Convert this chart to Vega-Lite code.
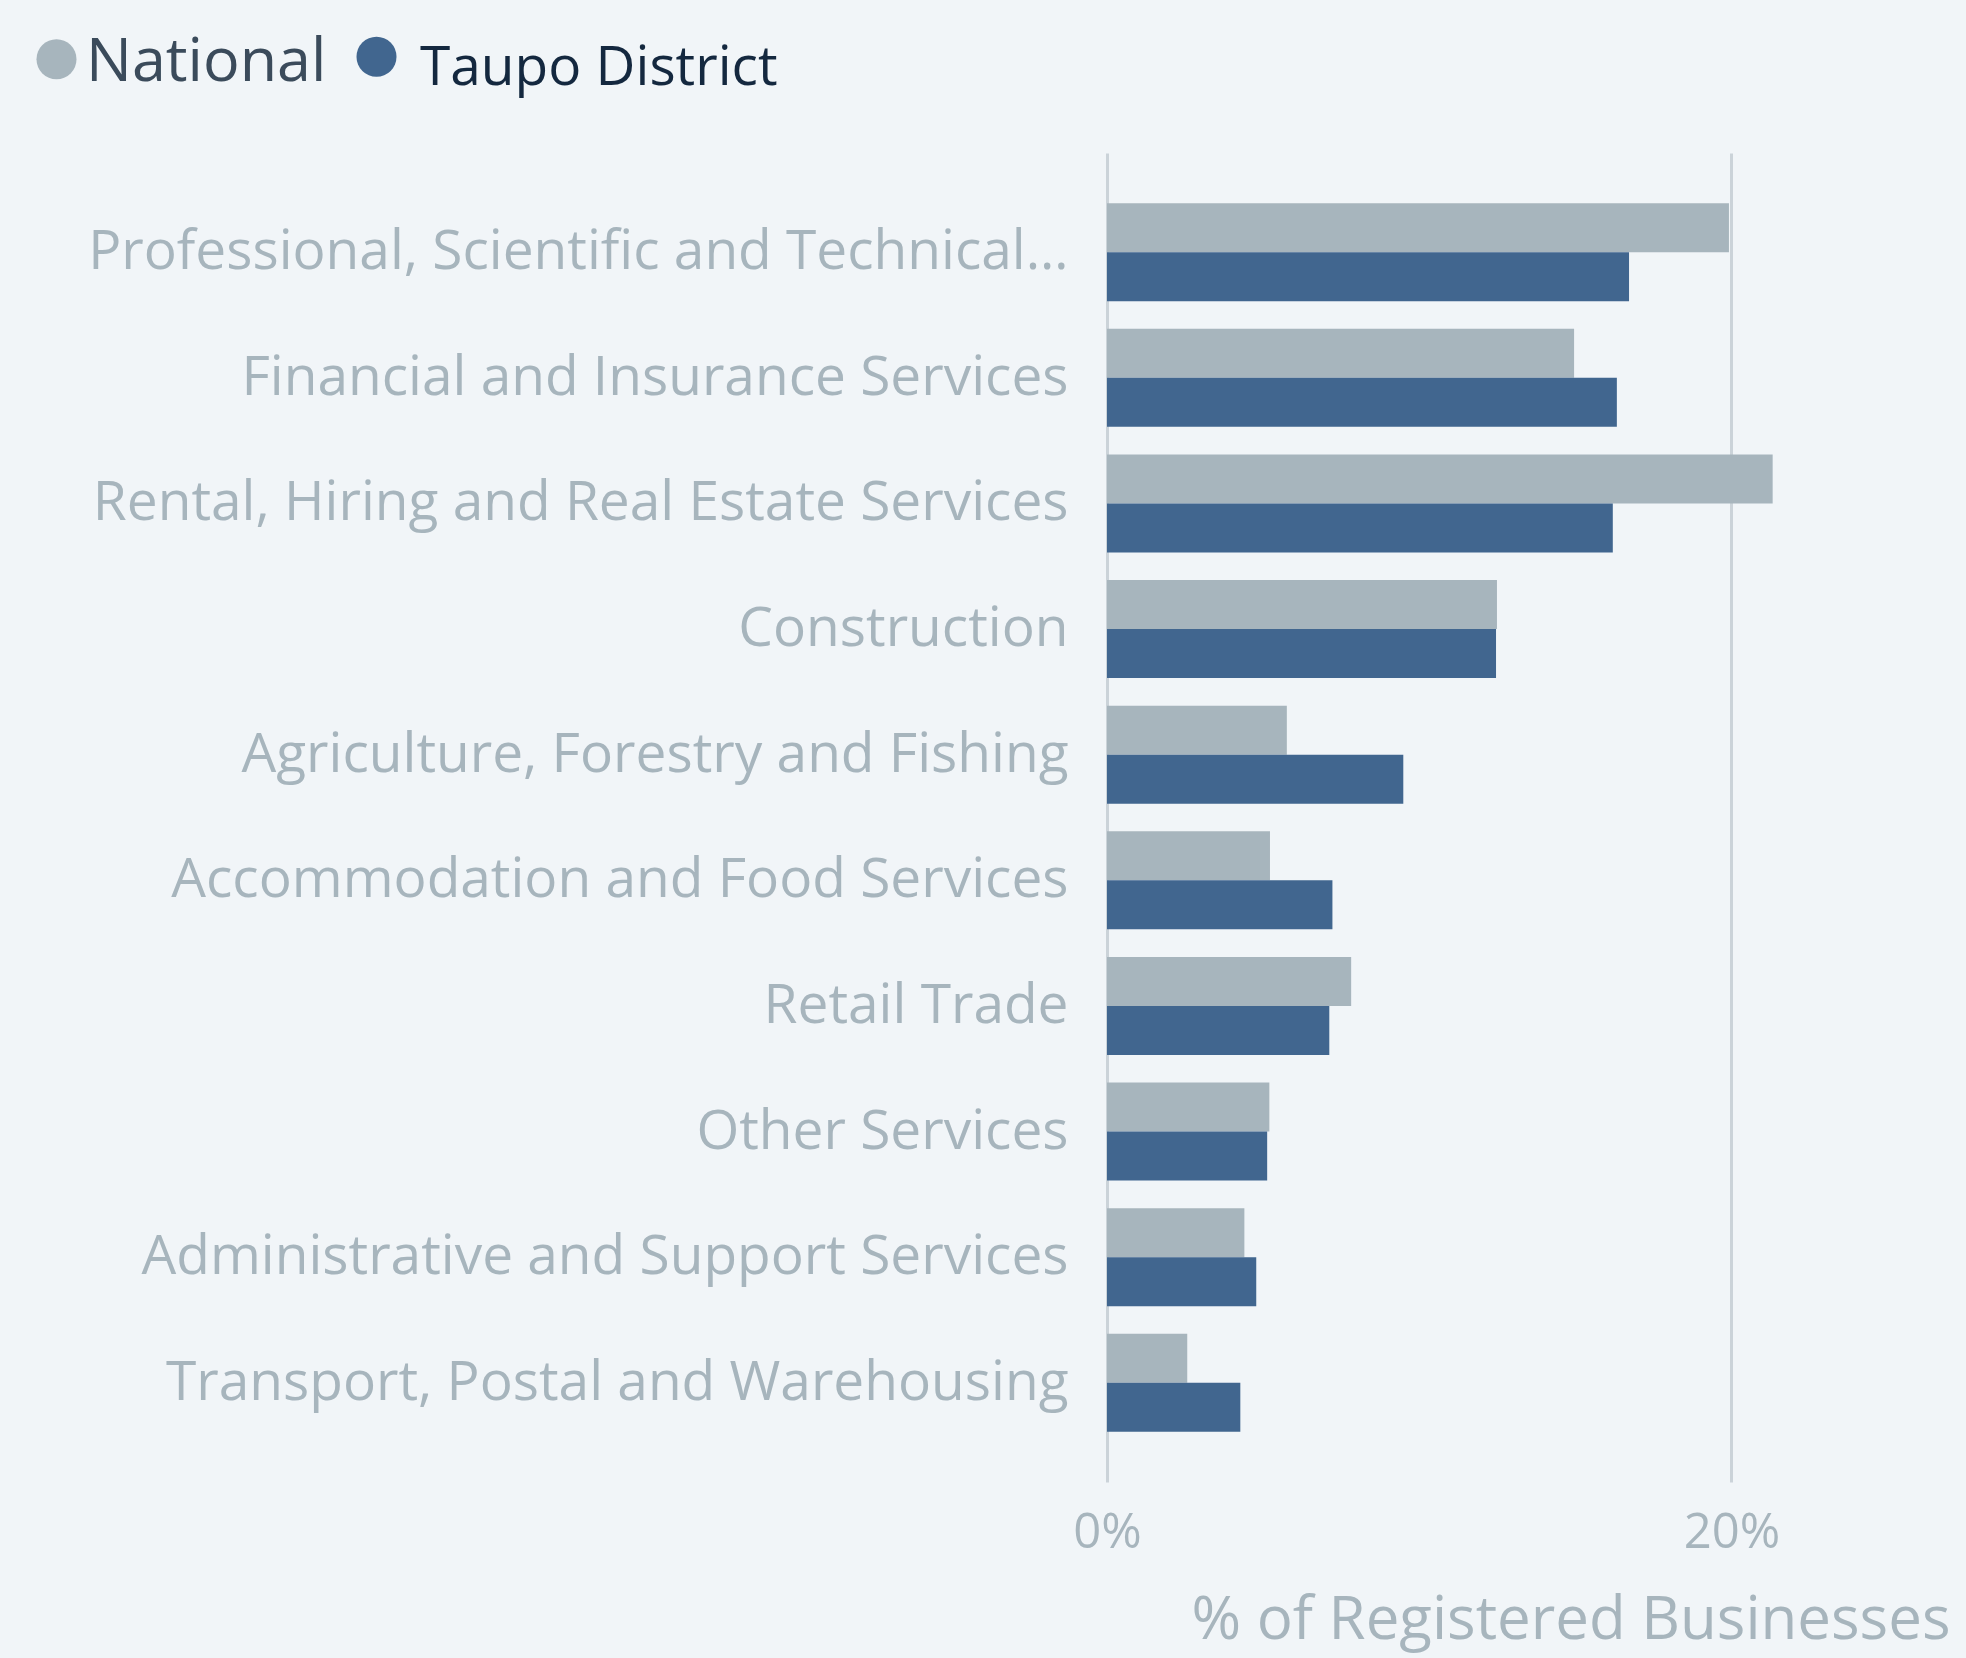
{
  "$schema": "https://vega.github.io/schema/vega-lite/v6.json",
  "autosize": "none",
  "width": 843,
  "height": 1329,
  "padding": {"left": 1107, "top": 153, "right": 16, "bottom": 176},
  "background": "#f1f5f8",
  "config": {
    "view": {"stroke": null},
    "font": "Open Sans"
  },
  "data": {
    "values": [
      {"industry": "Professional, Scientific and Technical…", "series": "National", "value": 0.1992},
      {"industry": "Professional, Scientific and Technical…", "series": "Taupo District", "value": 0.1672},
      {"industry": "Financial and Insurance Services", "series": "National", "value": 0.1496},
      {"industry": "Financial and Insurance Services", "series": "Taupo District", "value": 0.1633},
      {"industry": "Rental, Hiring and Real Estate Services", "series": "National", "value": 0.2132},
      {"industry": "Rental, Hiring and Real Estate Services", "series": "Taupo District", "value": 0.1620},
      {"industry": "Construction", "series": "National", "value": 0.1249},
      {"industry": "Construction", "series": "Taupo District", "value": 0.1246},
      {"industry": "Agriculture, Forestry and Fishing", "series": "National", "value": 0.0576},
      {"industry": "Agriculture, Forestry and Fishing", "series": "Taupo District", "value": 0.0949},
      {"industry": "Accommodation and Food Services", "series": "National", "value": 0.0522},
      {"industry": "Accommodation and Food Services", "series": "Taupo District", "value": 0.0722},
      {"industry": "Retail Trade", "series": "National", "value": 0.0782},
      {"industry": "Retail Trade", "series": "Taupo District", "value": 0.0712},
      {"industry": "Other Services", "series": "National", "value": 0.0520},
      {"industry": "Other Services", "series": "Taupo District", "value": 0.0513},
      {"industry": "Administrative and Support Services", "series": "National", "value": 0.0440},
      {"industry": "Administrative and Support Services", "series": "Taupo District", "value": 0.0478},
      {"industry": "Transport, Postal and Warehousing", "series": "National", "value": 0.0257},
      {"industry": "Transport, Postal and Warehousing", "series": "Taupo District", "value": 0.0427}
    ]
  },
  "mark": {"type": "bar"},
  "encoding": {
    "y": {
      "field": "industry",
      "type": "nominal",
      "sort": null,
      "scale": {"paddingInner": 0.22, "paddingOuter": 0.4},
      "axis": {
        "title": null,
        "domain": false,
        "ticks": false,
        "labelFontSize": 55,
        "labelColor": "#a7b5bd",
        "labelPadding": 39,
        "labelLimit": 1100
      }
    },
    "yOffset": {
      "field": "series",
      "type": "nominal",
      "scale": {"paddingInner": 0, "paddingOuter": 0}
    },
    "x": {
      "field": "value",
      "type": "quantitative",
      "scale": {"domain": [0, 0.27], "nice": false},
      "axis": {
        "title": "% of Registered Businesses",
        "titleAnchor": "end",
        "titleFontSize": 60,
        "titleFontWeight": "normal",
        "titleColor": "#a7b5bd",
        "titlePadding": 34,
        "values": [0, 0.2],
        "format": ".0%",
        "domain": false,
        "ticks": false,
        "grid": true,
        "gridColor": "#cbd3d9",
        "gridWidth": 3,
        "labelFontSize": 49,
        "labelColor": "#a7b5bd",
        "labelPadding": 26,
        "labelFlush": false
      }
    },
    "color": {
      "field": "series",
      "type": "nominal",
      "scale": {"domain": ["National", "Taupo District"], "range": ["#a7b5bd", "#41668f"]},
      "legend": {
        "title": null,
        "orient": "none",
        "direction": "horizontal",
        "legendX": -1078,
        "legendY": -124,
        "symbolType": "circle",
        "symbolSize": 1600,
        "labelFontSize": 55,
        "labelOffset": 2,
        "labelBaseline": "alphabetic",
        "columnPadding": 22,
        "labelLimit": 600,
        "encode": {
          "labels": {
            "update": {
              "fill": {"signal": "datum.label == 'National' ? '#3b4b5b' : '#14283f'"},
              "fontSize": {"signal": "datum.label == 'National' ? 61 : 55"},
              "dx": {"signal": "datum.label == 'National' ? 0 : 14"},
              "dy": {"signal": "datum.label == 'National' ? 22 : 28"}
            }
          }
        }
      }
    }
  }
}
